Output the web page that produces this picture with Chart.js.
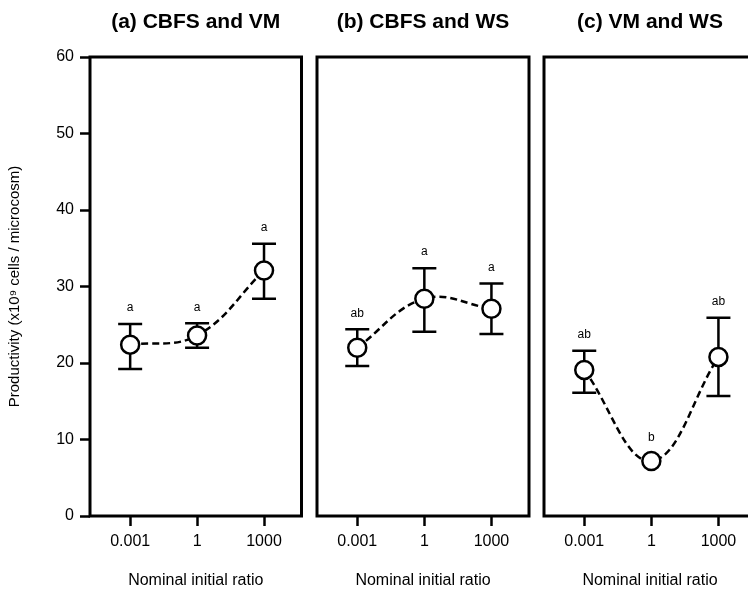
<!DOCTYPE html>
<html>
<head>
<meta charset="utf-8">
<script src="https://cdn.jsdelivr.net/npm/chart.js@4"></script>
<style>
  html, body { margin: 0; padding: 0; background: #fff; overflow: hidden; }
  body { width: 748px; height: 592px; position: relative; }
  .panel { position: absolute; top: 0; height: 592px; }
</style>
</head>
<body>
<div class="panel" style="left:0px;width:306px"><canvas id="panelA"></canvas></div>
<div class="panel" style="left:312px;width:222px"><canvas id="panelB"></canvas></div>
<div class="panel" style="left:539px;width:222px"><canvas id="panelC"></canvas></div>
<script>
const ratioLabels = ['0.001', '1', '1000'];
const panelTitles = ['(a) CBFS and VM', '(b) CBFS and WS', '(c) VM and WS'];

// means, error bar ends and significance letters
const meanA = [22.4, 23.6, 32.1];
const lowA = [19.2, 22.0, 28.4];
const highA = [25.1, 25.2, 35.6];
const letterA = ['a', 'a', 'a'];

const meanB = [22.0, 28.4, 27.1];
const lowB = [19.6, 24.1, 23.8];
const highB = [24.4, 32.4, 30.4];
const letterB = ['ab', 'a', 'a'];

const meanC = [19.1, 7.2, 20.8];
const lowC = [16.1, null, 15.7];
const highC = [21.6, null, 25.9];
const letterC = ['ab', 'b', 'ab'];

const yTicks = [0, 10, 20, 30, 40, 50, 60];

Chart.defaults.font.family = "'Liberation Sans', Arial, Helvetica, sans-serif";
Chart.defaults.color = '#000';

// error bars + letters under the markers, frame around the plot area
const errorBarPlugin = {
     id: 'errorBars',
     beforeDatasetsDraw(chart, args, opts) {
          const { ctx } = chart;
          const x = chart.scales.x;
          const y = chart.scales.y;
          ctx.save();
          ctx.strokeStyle = '#000';
          ctx.lineWidth = 2.5;
          opts.mean.forEach((m, i) => {
               const px = x.getPixelForValue(i);
               if (opts.low[i] != null) {
                    const yl = y.getPixelForValue(opts.low[i]);
                    const yh = y.getPixelForValue(opts.high[i]);
                    ctx.beginPath();
                    ctx.moveTo(px, yl); ctx.lineTo(px, yh);
                    ctx.moveTo(px - 12, yl); ctx.lineTo(px + 12, yl);
                    ctx.moveTo(px - 12, yh); ctx.lineTo(px + 12, yh);
                    ctx.stroke();
               }
               const ty = opts.high[i] != null ? y.getPixelForValue(opts.high[i]) - 16 : y.getPixelForValue(m) - 23;
               ctx.fillStyle = '#000';
               ctx.font = "12px 'Liberation Sans', Arial, sans-serif";
               ctx.textAlign = 'center';
               ctx.textBaseline = 'middle';
               ctx.fillText(opts.letters[i], px, ty);
          });
          ctx.restore();
     },
     afterDraw(chart) {
          const { ctx, chartArea: a } = chart;
          ctx.save();
          ctx.strokeStyle = '#000';
          ctx.lineWidth = 3;
          ctx.strokeRect(a.left, a.top, a.right - a.left, a.bottom - a.top);
          ctx.restore();
     }
};

function buildPanel(canvasId, title, mean, low, high, letters, showY) {

     const points = mean.map((v, i) => ({ x: i, y: v }));

     return new Chart(document.getElementById(canvasId), {
          type: 'line',
          data: {
               datasets: [
                    {
                         data: points,
                         showLine: false,
                         pointRadius: 9,
                         pointBorderWidth: 2.5,
                         pointBorderColor: '#000',
                         pointBackgroundColor: '#fff',
                         order: 0
                    },
                    {
                         data: points,
                         borderColor: '#000',
                         borderWidth: 2.5,
                         borderDash: [7, 4],
                         tension: 0.4,
                         pointRadius: 0,
                         fill: false,
                         order: 1
                    }
               ]
          },
          options: {
               responsive: true,
               maintainAspectRatio: false,
               animation: false,
               layout: {
                    autoPadding: false,
                    padding: showY ? { left: 0, right: 4.5 } : { left: 5, right: 5 }
               },
               plugins: {
                    legend: { display: false },
                    tooltip: { enabled: false },
                    title: {
                         display: true,
                         fullSize: false,
                         text: title,
                         color: '#000',
                         font: { size: 21, weight: 'bold' },
                         padding: { top: 9.5, bottom: 22.3 }
                    },
                    errorBars: { mean, low, high, letters }
               },
               scales: {
                    x: {
                         type: 'linear',
                         min: -0.6,
                         max: 2.56,
                         afterBuildTicks: (scale) => {
                              scale.ticks = ratioLabels.map((_, i) => ({ value: i }));
                         },
                         afterFit: (scale) => {
                              scale.height = 76;
                              scale.paddingLeft = 0;
                              scale.paddingRight = 0;
                         },
                         ticks: {
                              autoSkip: false,
                              maxRotation: 0,
                              padding: 6,
                              font: { size: 16 },
                              color: '#000',
                              callback: (v) => ratioLabels[v]
                         },
                         grid: {
                              drawOnChartArea: false,
                              drawTicks: true,
                              tickLength: 10,
                              tickWidth: 2.5,
                              tickColor: '#000'
                         },
                         border: { display: false },
                         title: {
                              display: true,
                              text: 'Nominal initial ratio',
                              color: '#000',
                              font: { size: 16 },
                              padding: { top: 0, bottom: 2 }
                         }
                    },
                    y: {
                         display: showY,
                         min: 0,
                         max: 60,
                         afterBuildTicks: (scale) => {
                              scale.ticks = yTicks.map(v => ({ value: v }));
                         },
                         afterFit: (scale) => {
                              if (showY) scale.width = 90;
                         },
                         ticks: { padding: 6, font: { size: 16 }, color: '#000' },
                         grid: {
                              drawOnChartArea: false,
                              drawTicks: true,
                              tickLength: 10,
                              tickWidth: 2.5,
                              tickColor: '#000'
                         },
                         border: { display: false },
                         title: {
                              display: true,
                              text: 'Productivity (x10\u2079 cells / microcosm)',
                              color: '#000',
                              font: { size: 15 },
                              padding: { top: 6, bottom: 0 }
                         }
                    }
               }
          },
          plugins: [errorBarPlugin]
     });
}

buildPanel('panelA', panelTitles[0], meanA, lowA, highA, letterA, true);
buildPanel('panelB', panelTitles[1], meanB, lowB, highB, letterB, false);
buildPanel('panelC', panelTitles[2], meanC, lowC, highC, letterC, false);
</script>
</body>
</html>
